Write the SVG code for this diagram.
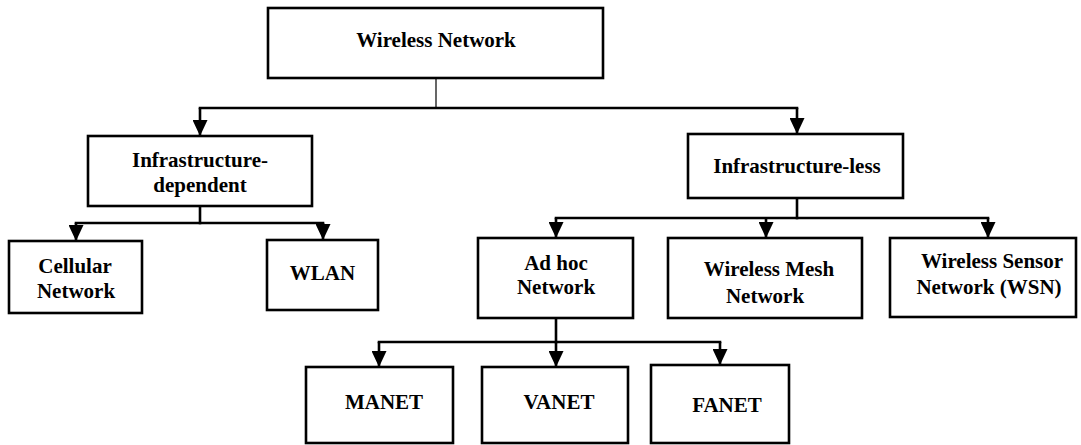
<svg xmlns="http://www.w3.org/2000/svg" width="1081" height="445" viewBox="0 0 1081 445">
  <style>
    .box { fill: #ffffff; stroke: #000000; stroke-width: 2.6; }
    .lbl { font-family: "Liberation Serif", "Times New Roman", serif; font-weight: bold; font-size: 21px; fill: #000000; text-anchor: middle; }
    .wire { fill: none; stroke: #000000; stroke-width: 2.6; stroke-linecap: square; }
    .drop { fill: none; stroke: #000000; stroke-width: 2.6; marker-end: url(#head); }
    .thin { fill: none; stroke: #000000; stroke-width: 1.2; }
  </style>
  <defs>
    <marker id="head" markerUnits="userSpaceOnUse" markerWidth="16" markerHeight="15" viewBox="0 0 16 15" refX="16" refY="7.5" orient="auto">
      <path d="M0,0 L16,7.5 L0,15 Z" fill="#000000"/>
    </marker>
  </defs>

  <rect width="1081" height="445" fill="#ffffff"/>

  <!-- connectors: bus lines with arrowed drops to each child -->
  <g id="connectors">
    <path class="thin" d="M436,78 V108"/>
    <path class="wire" d="M200,108 H797"/>
    <path class="drop" d="M200,108 V136"/>
    <path class="drop" d="M797,108 V134"/>

    <path class="wire" d="M200,206 V223"/>
    <path class="wire" d="M76,223 H323"/>
    <path class="drop" d="M76,223 V241"/>
    <path class="drop" d="M323,223 V240"/>

    <path class="wire" d="M797,198 V218"/>
    <path class="wire" d="M556,218 H988"/>
    <path class="drop" d="M556,218 V238"/>
    <path class="drop" d="M766,218 V238"/>
    <path class="drop" d="M988,218 V238"/>

    <path class="wire" d="M556,318 V342"/>
    <path class="wire" d="M379,342 H720"/>
    <path class="drop" d="M379,342 V367"/>
    <path class="drop" d="M556,342 V367"/>
    <path class="drop" d="M720,342 V365"/>
  </g>

  <g id="wireless-network">
    <rect class="box" x="268" y="8" width="335" height="70"/>
    <text class="lbl" x="436" y="47">Wireless Network</text>
  </g>

  <g id="infrastructure-dependent">
    <rect class="box" x="88" y="136" width="224" height="70"/>
    <text class="lbl" x="200" y="167">Infrastructure-</text>
    <text class="lbl" x="200" y="192">dependent</text>
  </g>

  <g id="infrastructure-less">
    <rect class="box" x="688" y="134" width="215" height="64"/>
    <text class="lbl" x="797" y="173">Infrastructure-less</text>
  </g>

  <g id="cellular-network">
    <rect class="box" x="9" y="241" width="133" height="72"/>
    <text class="lbl" x="75" y="273">Cellular</text>
    <text class="lbl" x="76" y="298">Network</text>
  </g>

  <g id="wlan">
    <rect class="box" x="267" y="240" width="111" height="70"/>
    <text class="lbl" x="322.5" y="280">WLAN</text>
  </g>

  <g id="ad-hoc-network">
    <rect class="box" x="478" y="238" width="155" height="80"/>
    <text class="lbl" x="556" y="270">Ad hoc</text>
    <text class="lbl" x="556" y="294">Network</text>
  </g>

  <g id="wireless-mesh-network">
    <rect class="box" x="668" y="238" width="194" height="80"/>
    <text class="lbl" x="769" y="276">Wireless Mesh</text>
    <text class="lbl" x="765" y="303">Network</text>
  </g>

  <g id="wireless-sensor-network">
    <rect class="box" x="890" y="238" width="186" height="79"/>
    <text class="lbl" x="992" y="268">Wireless Sensor</text>
    <text class="lbl" x="989" y="294">Network (WSN)</text>
  </g>

  <g id="manet">
    <rect class="box" x="306" y="367" width="147" height="76"/>
    <text class="lbl" x="384" y="409">MANET</text>
  </g>

  <g id="vanet">
    <rect class="box" x="482" y="367" width="146" height="76"/>
    <text class="lbl" x="559" y="409">VANET</text>
  </g>

  <g id="fanet">
    <rect class="box" x="651" y="365" width="138" height="78"/>
    <text class="lbl" x="727" y="412">FANET</text>
  </g>
</svg>
